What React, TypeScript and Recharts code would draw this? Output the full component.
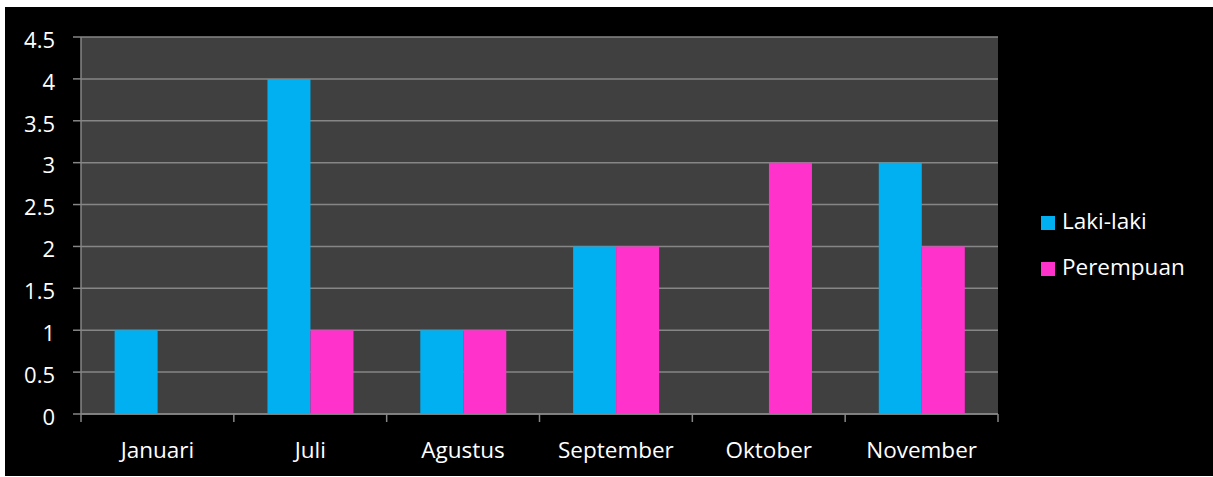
import React from "react";
import { BarChart, Bar, XAxis, YAxis, CartesianGrid, Legend } from "recharts";

const months = ["Januari", "Juli", "Agustus", "September", "Oktober", "November"];
const lakiLaki = [1, 4, 1, 2, 0, 3];
const perempuan = [0, 1, 1, 2, 3, 2];
const yTicks = [0, 0.5, 1, 1.5, 2, 2.5, 3, 3.5, 4, 4.5];

const data = months.map((m, i) => ({ month: m, laki: lakiLaki[i], perempuan: perempuan[i] }));

const FONT = "'Open Sans', sans-serif";
const GRID = "#868686";

const XTick = (props: any) => {
  const { x, y, payload, index, visibleTicksCount } = props;
  const half = payload && payload.offset ? payload.offset : 917 / 12;
  const isLast = index === (visibleTicksCount ?? months.length) - 1;
  return (
    <g>
      <line x1={x - half} y1={y - 8} x2={x - half} y2={y} stroke={GRID} strokeWidth={1.5} />
      {isLast && <line x1={x + half} y1={y - 8} x2={x + half} y2={y} stroke={GRID} strokeWidth={1.5} />}
      <text x={x} y={y + 36} textAnchor="middle" fill="#ffffff" fontSize={22.5} fontFamily={FONT}>
        {payload.value}
      </text>
    </g>
  );
};

export default function App() {
  return (
    <div style={{ position: "absolute", left: 5, top: 7, width: 1208, height: 469, background: "#000000" }}>
      <BarChart
        width={1208}
        height={469}
        data={data}
        margin={{ top: 30, right: 45, bottom: 0, left: 6 }}
        barCategoryGap="22%"
        barGap={0}
      >
        <CartesianGrid vertical={false} fill="#404040" stroke={GRID} strokeWidth={1.5} />
        <XAxis
          dataKey="month"
          axisLine={{ stroke: GRID, strokeWidth: 1.5 }}
          tickLine={false}
          tick={<XTick />}
          interval={0}
          height={62}
        />
        <YAxis
          width={70}
          domain={[0, 4.5]}
          ticks={yTicks}
          interval={0}
          axisLine={{ stroke: GRID, strokeWidth: 1.5 }}
          tickLine={{ stroke: GRID, strokeWidth: 1.5 }}
          tickSize={8}
          tickMargin={18}
          tick={{ fill: "#ffffff", fontSize: 22, fontFamily: FONT, dy: 3 }}
        />
        <Legend
          layout="vertical"
          align="right"
          verticalAlign="middle"
          iconType="square"
          iconSize={14}
          wrapperStyle={{ left: 1036, top: 191, width: 170, fontFamily: FONT, fontSize: 22.5, lineHeight: "46px" }}
          formatter={(v: string) => <span style={{ color: "#ffffff", marginLeft: 3 }}>{v}</span>}
        />
        <Bar dataKey="laki" name="Laki-laki" fill="#00B0F0" isAnimationActive={false} />
        <Bar dataKey="perempuan" name="Perempuan" fill="#FF33CC" isAnimationActive={false} />
      </BarChart>
    </div>
  );
}
